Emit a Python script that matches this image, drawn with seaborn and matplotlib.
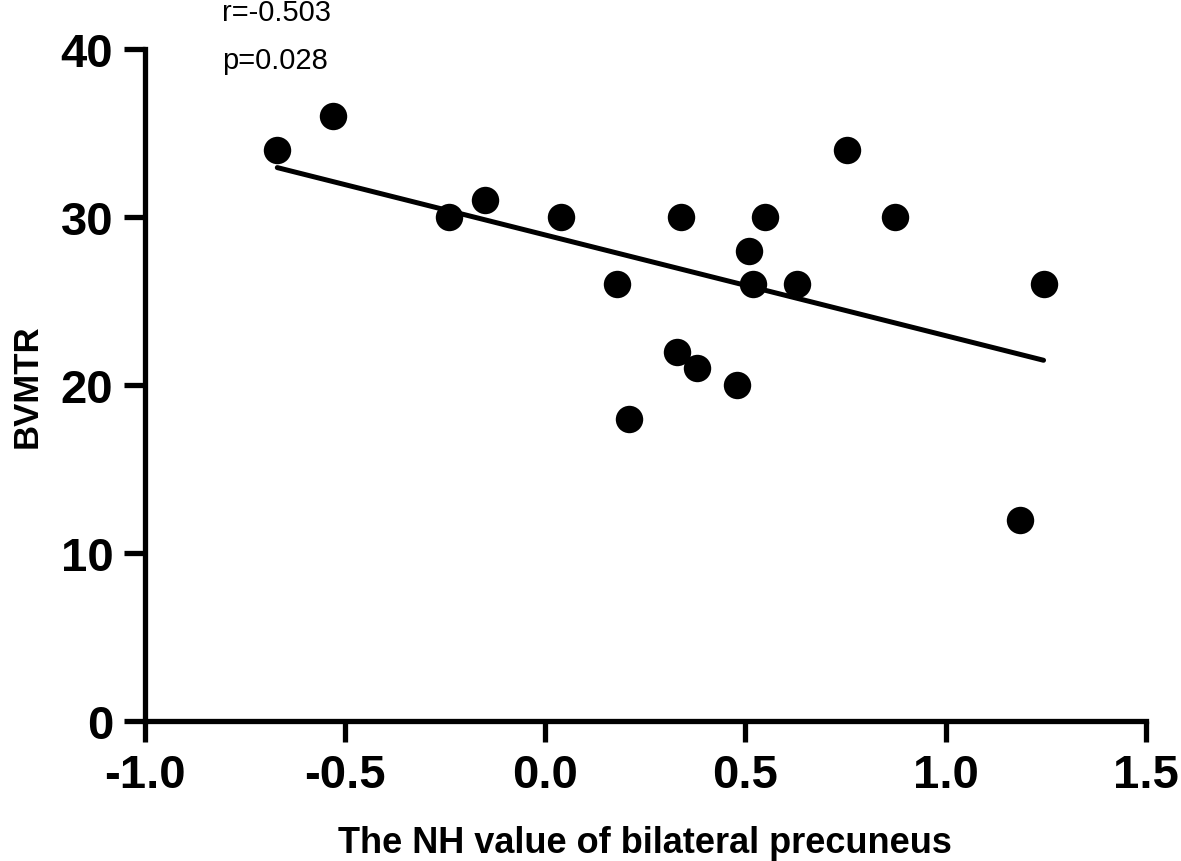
import numpy as np
import pandas as pd
import matplotlib
matplotlib.use("Agg")
import matplotlib.pyplot as plt
import seaborn as sns

nh_value = [-0.67, -0.53, -0.24, -0.15, 0.04, 0.18, 0.21, 0.33, 0.34, 0.38,
            0.48, 0.51, 0.52, 0.55, 0.63, 0.755, 0.875, 1.185, 1.245]
bvmtr = [34, 36, 30, 31, 30, 26, 18, 22, 30, 21,
         20, 28, 26, 30, 26, 34, 30, 12, 26]
x_ticks = [-1.0, -0.5, 0.0, 0.5, 1.0, 1.5]
y_ticks = [0, 10, 20, 30, 40]
annot = ["r=-0.503", "p=0.028"]

df = pd.DataFrame({"nh": nh_value, "bvmtr": bvmtr})

sns.set_theme(style="ticks")
plt.rcParams['font.family'] = ['Liberation Sans', 'DejaVu Sans']
plt.rcParams['text.color'] = 'black'
plt.rcParams['axes.labelcolor'] = 'black'
plt.rcParams['xtick.color'] = 'black'
plt.rcParams['ytick.color'] = 'black'

fig = plt.figure(figsize=(11.81, 8.62), dpi=100)
ax = fig.add_axes([0.123, 0.162, 0.847, 0.78])

sns.regplot(data=df, x="nh", y="bvmtr", ax=ax, ci=None,
            scatter_kws=dict(s=390, color="black", alpha=1, linewidths=0, zorder=3),
            line_kws=dict(color="black", lw=3.6, zorder=2))

ax.set_xlim(-1.0, 1.5)
ax.set_ylim(0, 40)
ax.set_xticks(x_ticks)
ax.set_xticklabels([f"{t:.1f}" for t in x_ticks])
ax.set_yticks(y_ticks)
ax.set_yticklabels([str(t) for t in y_ticks])
for s in ["top", "right"]:
    ax.spines[s].set_visible(False)
for s in ["left", "bottom"]:
    ax.spines[s].set_linewidth(3.8)
    ax.spines[s].set_color("black")
ax.tick_params(axis="both", width=3.8, length=15, colors="black",
               labelsize=34, pad=8)
for lab in ax.get_xticklabels() + ax.get_yticklabels():
    lab.set_fontweight("bold")
ax.set_xlabel("The NH value of bilateral precuneus", fontsize=26,
              fontweight="bold", labelpad=20, color="black")
ax.set_ylabel("BVMTR", fontsize=25, fontweight="bold", labelpad=12, color="black")

fig.text(222/1181, 1 - 21/862, annot[0], fontsize=21, ha="left", va="baseline", color="black")
fig.text(222/1181, 1 - 69/862, annot[1], fontsize=21, ha="left", va="baseline", color="black")

fig.savefig("out.png", dpi=100)
